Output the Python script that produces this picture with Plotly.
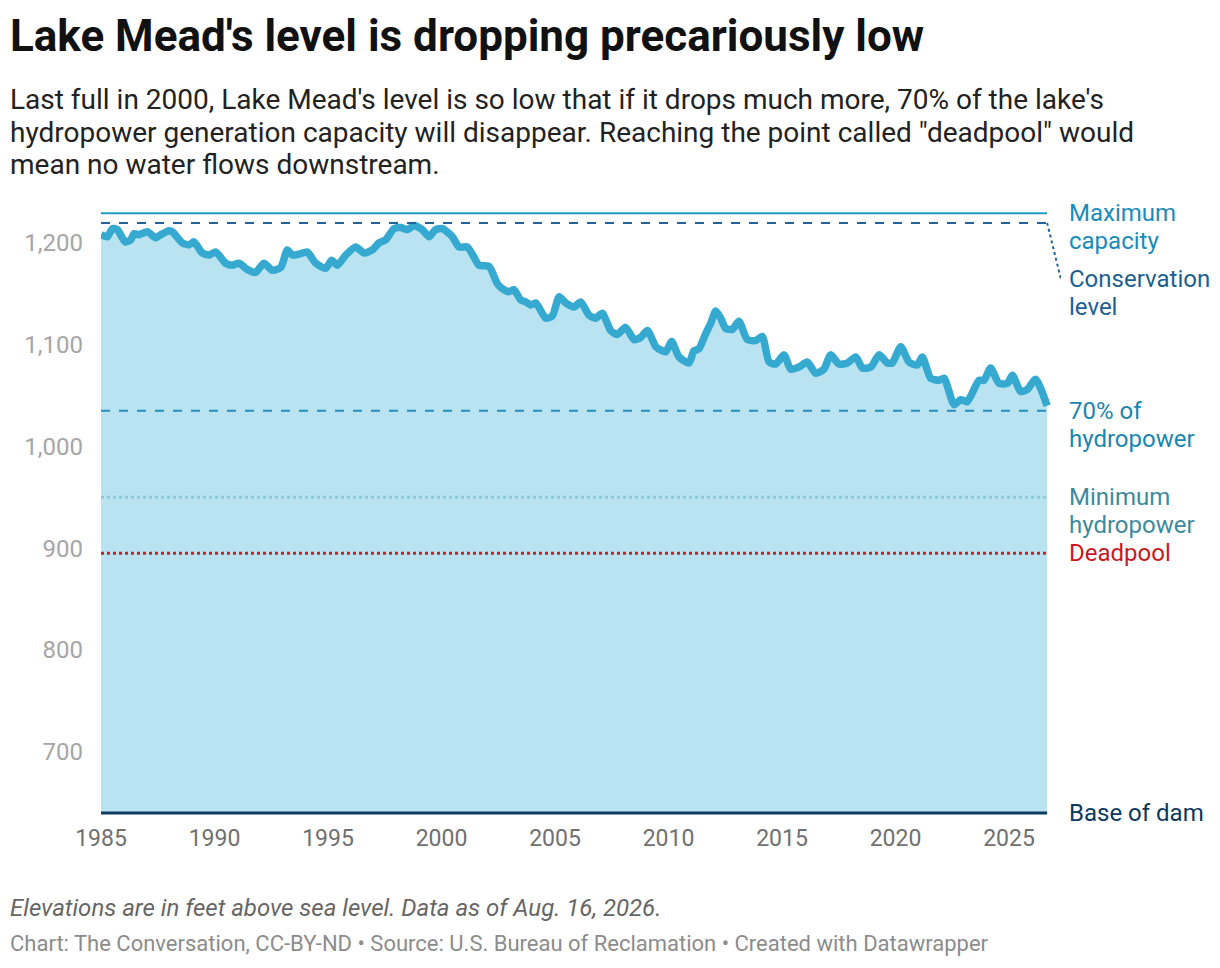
import plotly.graph_objects as go

# Lake Mead elevation (ft above sea level)
years = [
    1985.00, 1985.28, 1985.50, 1985.72, 1986.06, 1986.31, 1986.45, 1986.67,
    1987.04, 1987.41, 1987.63, 1988.00, 1988.14, 1988.58, 1988.88, 1989.10,
    1989.46, 1989.76, 1990.05, 1990.49, 1990.78, 1991.08, 1991.44, 1991.81,
    1992.18, 1992.55, 1992.92, 1993.21, 1993.43, 1993.72, 1994.09, 1994.46,
    1994.90, 1995.16, 1995.41, 1995.78, 1996.22, 1996.59, 1996.95, 1997.25,
    1997.54, 1997.91, 1998.20, 1998.49, 1998.79, 1999.15, 1999.45, 1999.74,
    2000.04, 2000.48, 2000.77, 2001.14, 2001.43, 2001.65, 2002.09, 2002.46,
    2002.68, 2002.97, 2003.19, 2003.49, 2003.71, 2003.93, 2004.15, 2004.59,
    2004.88, 2005.18, 2005.47, 2005.84, 2006.13, 2006.50, 2006.79, 2007.08,
    2007.45, 2007.74, 2008.11, 2008.48, 2008.77, 2009.07, 2009.44, 2009.73,
    2009.88, 2010.14, 2010.46, 2010.90, 2011.12, 2011.34, 2011.64, 2011.86,
    2012.08, 2012.30, 2012.52, 2012.81, 2013.10, 2013.47, 2013.84, 2014.13,
    2014.43, 2014.72, 2015.09, 2015.38, 2015.75, 2016.11, 2016.48, 2016.85,
    2017.14, 2017.51, 2017.88, 2018.25, 2018.54, 2018.91, 2019.28, 2019.64,
    2019.86, 2020.23, 2020.59, 2020.96, 2021.18, 2021.55, 2021.92, 2022.14,
    2022.58, 2022.87, 2023.16, 2023.68, 2023.90, 2024.19, 2024.56, 2024.93,
    2025.15, 2025.51, 2025.81, 2026.17, 2026.68,
]
levels = [
    1208, 1206, 1214, 1213, 1201, 1203, 1209, 1208,
    1211, 1205, 1208, 1212, 1211, 1200, 1198, 1201,
    1190, 1188, 1191, 1180, 1178, 1180, 1174, 1171,
    1180, 1173, 1176, 1193, 1188, 1189, 1191, 1180,
    1175, 1183, 1178, 1188, 1196, 1190, 1193, 1200,
    1203, 1214, 1215, 1213, 1217, 1213, 1206, 1213,
    1214, 1206, 1196, 1196, 1186, 1178, 1177, 1160,
    1155, 1152, 1154, 1144, 1142, 1139, 1141, 1126,
    1128, 1147, 1141, 1137, 1142, 1129, 1126, 1131,
    1114, 1110, 1117, 1105, 1107, 1114, 1098, 1094,
    1093, 1103, 1088, 1082, 1094, 1096, 1111, 1121,
    1133, 1126, 1116, 1115, 1123, 1105, 1104, 1108,
    1083, 1081, 1090, 1076, 1078, 1083, 1072, 1076,
    1090, 1081, 1082, 1088, 1077, 1078, 1090, 1082,
    1082, 1098, 1083, 1080, 1088, 1067, 1065, 1067,
    1041, 1046, 1044, 1065, 1065, 1077, 1062, 1062,
    1070, 1054, 1056, 1066, 1040,
]

# reference elevations
max_capacity = 1229
conservation = 1219.6
hydro_70 = 1035
min_hydro = 950
deadpool = 895
base_of_dam = 640
conservation_label_level = 1165

x_ticks = [1985, 1990, 1995, 2000, 2005, 2010, 2015, 2020, 2025]
y_ticks = [700, 800, 900, 1000, 1100, 1200]

FONT = "Roboto"
OFF = 8  # page body margin
W, H = 1204, 952
L, T = 93, 202
PW, PH = 960, 606
R, B = W - L - PW, H - T - PH


def px_x(p):
    # page pixel -> paper x
    return (p - OFF - L) / PW


def px_y(p):
    # page pixel -> paper y
    return (T + PH - (p - OFF)) / PH


fig = go.Figure()

# invisible floor so the fill stops at the base of the dam
fig.add_trace(go.Scatter(
    x=years, y=[base_of_dam] * len(years), mode="lines",
    line=dict(width=0), hoverinfo="skip", showlegend=False,
))
fig.add_trace(go.Scatter(
    x=years, y=levels, mode="lines", fill="tonexty",
    fillcolor="#b9e3f1",
    line=dict(color="#35a9cf", width=7.5, shape="spline", smoothing=0.6),
    hoverinfo="skip", showlegend=False,
))

end = years[-1]
ref_lines = [
    (max_capacity, "#1f9bc8", 2, "solid"),
    (conservation, "#22649a", 2, "dash"),
    (hydro_70, "#2590bf", 2, "dash"),
    (min_hydro, "#85cde0", 3, "dot"),
    (deadpool, "#cc1f26", 3, "dot"),
    (base_of_dam, "#0c3a5c", 3, "solid"),
]
for level, color, width, dash in ref_lines:
    fig.add_shape(type="line", xref="x", yref="y", x0=1985, x1=end,
                  y0=level, y1=level, line=dict(color=color, width=width, dash=dash))

# leader from conservation line to its label
fig.add_shape(type="line", xref="x", yref="y", x0=end, x1=2027.28,
              y0=conservation, y1=conservation_label_level,
              line=dict(color="#22649a", width=2, dash="dot"))

labels = [
    (max_capacity, ["Maximum", "capacity"], "#1a8cba"),
    (conservation_label_level, ["Conservation", "level"], "#1b5f92"),
    (hydro_70, ["70% of", "hydropower"], "#1a86b0"),
    (min_hydro, ["Minimum", "hydropower"], "#3d8a9c"),
    (deadpool, ["Deadpool"], "#c9191e"),
    (base_of_dam, ["Base of dam"], "#0c3a5c"),
]
for level, lines, color in labels:
    for i, line in enumerate(lines):
        fig.add_annotation(
            xref="paper", yref="y", x=px_x(1067), y=level, text=line,
            xanchor="left", yanchor="middle", yshift=-28 * i, showarrow=False,
            font=dict(family=FONT, size=24, color=color),
        )

# title, subtitle, notes
fig.add_annotation(
    xref="paper", yref="paper", x=px_x(8), y=px_y(8), xanchor="left", yanchor="top",
    text="<b>Lake Mead's level is dropping precariously low</b>", showarrow=False,
    font=dict(family=FONT, size=44, color="#111111"),
)
subtitle = [
    "Last full in 2000, Lake Mead's level is so low that if it drops much more, 70% of the lake's",
    "hydropower generation capacity will disappear. Reaching the point called \"deadpool\" would",
    "mean no water flows downstream.",
]
for i, line in enumerate(subtitle):
    fig.add_annotation(
        xref="paper", yref="paper", x=px_x(8), y=px_y(99 + 33 * i), xanchor="left",
        yanchor="middle", text=line, showarrow=False,
        font=dict(family=FONT, size=28, color="#222222"),
    )
fig.add_annotation(
    xref="paper", yref="paper", x=px_x(8), y=px_y(908), xanchor="left", yanchor="middle",
    text="<i>Elevations are in feet above sea level. Data as of Aug. 16, 2026.</i>",
    showarrow=False, font=dict(family=FONT, size=24, color="#666666"),
)
fig.add_annotation(
    xref="paper", yref="paper", x=px_x(8), y=px_y(944), xanchor="left", yanchor="middle",
    text="Chart: The Conversation, CC-BY-ND • Source: U.S. Bureau of Reclamation • Created with Datawrapper",
    showarrow=False, font=dict(family=FONT, size=22, color="#8c8c8c"),
)

fig.update_layout(
    width=W, height=H,
    margin=dict(l=L, r=R, t=T, b=B),
    paper_bgcolor="white", plot_bgcolor="white",
    font=dict(family=FONT),
    xaxis=dict(
        range=[1985, 1985 + PW / 22.7], tickvals=x_ticks, showgrid=False, zeroline=False,
        showline=False, ticks="", ticklabelstandoff=6,
        tickfont=dict(size=23, color="#707070"),
    ),
    yaxis=dict(
        range=[637, 637 + PH / 1.018], tickvals=y_ticks, tickformat=",", showgrid=False,
        zeroline=False, showline=False, ticks="", ticklabelstandoff=17,
        tickfont=dict(size=24, color="#a6a6a6"),
    ),
)

fig.write_html("out.html")
